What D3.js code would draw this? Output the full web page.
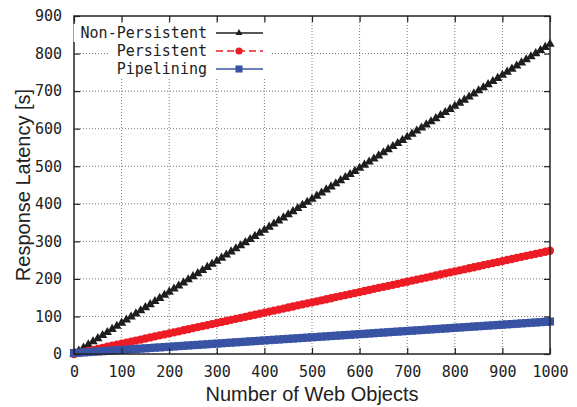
<!DOCTYPE html>
<html>
<head>
<meta charset="utf-8">
<script src="https://cdn.jsdelivr.net/npm/d3@7"></script>
<style>
  body { margin: 0; background: #fff; }
  svg { display: block; }
</style>
</head>
<body>
<div id="chart"></div>
<script>
// number of web objects (x)
const objects = [0, 10, 20, 30, 40, 50, 60, 70, 80, 90, 100, 110, 120, 130, 140, 150, 160, 170, 180, 190,
  200, 210, 220, 230, 240, 250, 260, 270, 280, 290, 300, 310, 320, 330, 340, 350, 360, 370, 380, 390,
  400, 410, 420, 430, 440, 450, 460, 470, 480, 490, 500, 510, 520, 530, 540, 550, 560, 570, 580, 590,
  600, 610, 620, 630, 640, 650, 660, 670, 680, 690, 700, 710, 720, 730, 740, 750, 760, 770, 780, 790,
  800, 810, 820, 830, 840, 850, 860, 870, 880, 890, 900, 910, 920, 930, 940, 950, 960, 970, 980, 990, 1000];

const nonPersistent = [0, 8.3, 16.5, 24.8, 33, 41.3, 49.5, 57.8, 66, 74.3, 82.5, 90.8, 99, 107.3, 115.5, 123.8,
  132, 140.3, 148.5, 156.8, 165, 173.3, 181.5, 189.8, 198, 206.3, 214.5, 222.8, 231, 239.3, 247.5, 255.8,
  264, 272.3, 280.5, 288.8, 297, 305.3, 313.5, 321.8, 330, 338.3, 346.5, 354.8, 363, 371.3, 379.5, 387.8,
  396, 404.3, 412.5, 420.8, 429, 437.3, 445.5, 453.8, 462, 470.3, 478.5, 486.8, 495, 503.3, 511.5, 519.8,
  528, 536.3, 544.5, 552.8, 561, 569.3, 577.5, 585.8, 594, 602.3, 610.5, 618.8, 627, 635.3, 643.5, 651.8,
  660, 668.3, 676.5, 684.8, 693, 701.3, 709.5, 717.8, 726, 734.3, 742.5, 750.8, 759, 767.3, 775.5, 783.8,
  792, 800.3, 808.5, 816.8, 825];

const persistent = [0, 2.8, 5.5, 8.3, 11, 13.8, 16.5, 19.3, 22, 24.8, 27.5, 30.3, 33, 35.8, 38.5, 41.3,
  44, 46.8, 49.5, 52.3, 55, 57.8, 60.5, 63.3, 66, 68.8, 71.5, 74.3, 77, 79.8, 82.5, 85.3,
  88, 90.8, 93.5, 96.3, 99, 101.8, 104.5, 107.3, 110, 112.8, 115.5, 118.3, 121, 123.8, 126.5, 129.3,
  132, 134.8, 137.5, 140.3, 143, 145.8, 148.5, 151.3, 154, 156.8, 159.5, 162.3, 165, 167.8, 170.5, 173.3,
  176, 178.8, 181.5, 184.3, 187, 189.8, 192.5, 195.3, 198, 200.8, 203.5, 206.3, 209, 211.8, 214.5, 217.3,
  220, 222.8, 225.5, 228.3, 231, 233.8, 236.5, 239.3, 242, 244.8, 247.5, 250.3, 253, 255.8, 258.5, 261.3,
  264, 266.8, 269.5, 272.3, 275];

const pipelining = [2.5, 3.3, 4.2, 5.0, 5.9, 6.7, 7.5, 8.4, 9.2, 10.1, 10.9, 11.7, 12.6, 13.4, 14.3, 15.1,
  15.9, 16.8, 17.6, 18.5, 19.3, 20.1, 21.0, 21.8, 22.7, 23.5, 24.3, 25.2, 26.0, 26.9, 27.7, 28.5,
  29.4, 30.2, 31.1, 31.9, 32.7, 33.6, 34.4, 35.3, 36.1, 36.9, 37.8, 38.6, 39.5, 40.3, 41.1, 42.0,
  42.8, 43.7, 44.5, 45.3, 46.2, 47.0, 47.9, 48.7, 49.5, 50.4, 51.2, 52.1, 52.9, 53.7, 54.6, 55.4,
  56.3, 57.1, 57.9, 58.8, 59.6, 60.5, 61.3, 62.1, 63.0, 63.8, 64.7, 65.5, 66.3, 67.2, 68.0, 68.9,
  69.7, 70.5, 71.4, 72.2, 73.1, 73.9, 74.7, 75.6, 76.4, 77.3, 78.1, 78.9, 79.8, 80.6, 81.5, 82.3,
  83.1, 84.0, 84.8, 85.7, 86.5];

const xTicks = [0, 100, 200, 300, 400, 500, 600, 700, 800, 900, 1000];
const yTicks = [0, 100, 200, 300, 400, 500, 600, 700, 800, 900];

const seriesNames = ['Non-Persistent', 'Persistent', 'Pipelining'];
const seriesColors = ['#1e1e1e', '#ed1c24', '#3953a4'];

const W = 577, H = 407;
const margin = { top: 16, right: 27, bottom: 53, left: 74 };
const width = W - margin.left - margin.right;
const height = H - margin.top - margin.bottom;
const monoFont = '"DejaVu Sans Mono", monospace';
const sansFont = '"Liberation Sans", Arial, sans-serif';

const svg = d3.select('#chart').append('svg')
  .attr('width', W)
  .attr('height', H);

const g = svg.append('g')
  .attr('transform', `translate(${margin.left},${margin.top})`);

const x = d3.scaleLinear().domain([0, 1000]).range([0, width]);
const y = d3.scaleLinear().domain([0, 900]).range([height, 0]);

// dotted grid
g.append('g').selectAll('line')
  .data(xTicks.slice(1, -1))
  .enter().append('line')
  .attr('x1', d => x(d)).attr('x2', d => x(d))
  .attr('y1', 0).attr('y2', height)
  .attr('stroke', '#555').attr('stroke-width', 0.8)
  .attr('stroke-dasharray', '1,2');

g.append('g').selectAll('line')
  .data(yTicks.slice(1, -1))
  .enter().append('line')
  .attr('x1', 0).attr('x2', width)
  .attr('y1', d => y(d)).attr('y2', d => y(d))
  .attr('stroke', '#555').attr('stroke-width', 0.8)
  .attr('stroke-dasharray', '1,2');

// series
const series = [nonPersistent, persistent, pipelining];
const symbols = [d3.symbolTriangle, d3.symbolCircle, d3.symbolSquare];
const symSizes = [38, 54, 66];
const legendSizes = [20, 40, 50];

series.forEach((vals, i) => {
  const pts = objects.map((o, j) => [o, vals[j]]);
  g.append('path')
    .datum(pts)
    .attr('fill', 'none')
    .attr('stroke', seriesColors[i])
    .attr('stroke-width', 1.2)
    .attr('d', d3.line().x(d => x(d[0])).y(d => y(d[1])));
  g.append('g').selectAll('path')
    .data(pts)
    .enter().append('path')
    .attr('transform', d => `translate(${x(d[0])},${y(d[1])})`)
    .attr('d', d3.symbol().type(symbols[i]).size(symSizes[i]))
    .attr('fill', seriesColors[i]);
});

// frame and inward ticks on all sides
g.append('rect')
  .attr('width', width).attr('height', height)
  .attr('fill', 'none').attr('stroke', '#222').attr('stroke-width', 1.5);

const fmt = d3.format('d');
const axB = g.append('g').attr('transform', `translate(0,${height})`)
  .call(d3.axisBottom(x).tickValues(xTicks).tickFormat(fmt).tickSizeInner(-6).tickSizeOuter(0).tickPadding(12));
const axT = g.append('g')
  .call(d3.axisTop(x).tickValues(xTicks).tickSizeInner(-6).tickSizeOuter(0).tickFormat(''));
const axL = g.append('g')
  .call(d3.axisLeft(y).tickValues(yTicks).tickFormat(fmt).tickSizeInner(-6).tickSizeOuter(0).tickPadding(12));
const axR = g.append('g').attr('transform', `translate(${width},0)`)
  .call(d3.axisRight(y).tickValues(yTicks).tickSizeInner(-6).tickSizeOuter(0).tickFormat(''));

[axB, axT, axL, axR].forEach(a => {
  a.select('.domain').remove();
  a.selectAll('.tick line').attr('stroke', '#222').attr('stroke-width', 1.2);
  a.selectAll('.tick text')
    .attr('font-family', monoFont)
    .attr('font-size', 15)
    .attr('fill', '#222');
});

// legend
const legend = g.append('g').attr('transform', 'translate(133,17)');
seriesNames.forEach((name, i) => {
  const row = legend.append('g').attr('transform', `translate(0,${i * 18})`);
  const bg = row.append('rect').attr('fill', '#fff');
  const txt = row.append('text')
    .attr('x', 0).attr('dy', '0.35em')
    .attr('text-anchor', 'end')
    .attr('font-family', monoFont)
    .attr('font-size', 15)
    .attr('fill', '#222')
    .text(name);
  const tw = txt.node().getComputedTextLength();
  bg.attr('x', -tw - 7).attr('y', -9).attr('width', tw + 7 + 64).attr('height', 18);
  row.append('line')
    .attr('x1', 9).attr('x2', 56)
    .attr('stroke', seriesColors[i])
    .attr('stroke-width', 1.5)
    .attr('stroke-dasharray', i === 1 ? '7,4' : null);
  row.append('path')
    .attr('transform', 'translate(32,0)')
    .attr('d', d3.symbol().type(symbols[i]).size(legendSizes[i]))
    .attr('fill', seriesColors[i]);
});

// axis titles
svg.append('text')
  .attr('x', margin.left + width / 2)
  .attr('y', 401)
  .attr('text-anchor', 'middle')
  .attr('font-family', sansFont)
  .attr('font-size', 20)
  .attr('fill', '#222')
  .text('Number of Web Objects');

svg.append('text')
  .attr('transform', `translate(30,${margin.top + height / 2}) rotate(-90)`)
  .attr('text-anchor', 'middle')
  .attr('font-family', sansFont)
  .attr('font-size', 20)
  .attr('fill', '#222')
  .text('Response Latency [s]');
</script>
</body>
</html>
